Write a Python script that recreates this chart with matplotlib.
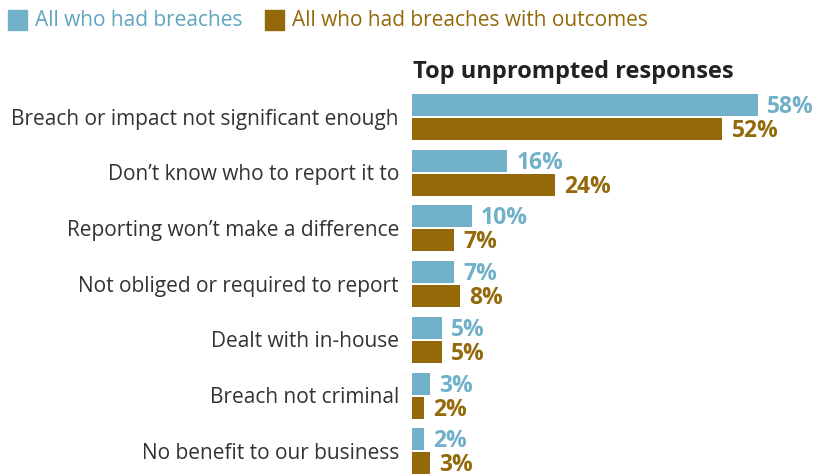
import matplotlib
matplotlib.use("Agg")
import matplotlib.pyplot as plt
import numpy as np

plt.rcParams['font.family'] = ['Open Sans', 'DejaVu Sans']

categories = [
    "Breach or impact not significant enough",
    "Don\u2019t know who to report it to",
    "Reporting won\u2019t make a difference",
    "Not obliged or required to report",
    "Dealt with in-house",
    "Breach not criminal",
    "No benefit to our business",
]
all_breaches = [58, 16, 10, 7, 5, 3, 2]
with_outcomes = [52, 24, 7, 8, 5, 2, 3]
series_names = ["All who had breaches", "All who had breaches with outcomes"]

blue = "#70B0C9"
blue_text = "#5FA5C0"
brown = "#936909"
label_dark = "#333333"

W, H = 818, 476
fig = plt.figure(figsize=(W / 100, H / 100), dpi=100)

# axes spanning the bar area in pixel terms
left_px, right_px = 412, 818
top_px, bottom_px = 94, 474
ax = fig.add_axes([left_px / W, 1 - bottom_px / H, (right_px - left_px) / W, (bottom_px - top_px) / H])

px_per_unit = 5.96
ax.set_xlim(0, (right_px - left_px) / px_per_unit)
group_px = 55.7
span = (bottom_px - top_px) / group_px
top_off = 23 / group_px
ax.set_ylim(span - top_off, -top_off)

y = np.arange(len(categories))
off = 12 / group_px
h = 22 / group_px
ax.barh(y - off, all_breaches, height=h, color=blue)
ax.barh(y + off, with_outcomes, height=h, color=brown)

nudge = 2 / group_px
for yi, v in zip(y, all_breaches):
    ax.text(v + 1.6, yi - off + nudge, f"{v}%", color=blue, fontsize=16.5, fontweight='bold',
            va='center', ha='left')
for yi, v in zip(y, with_outcomes):
    ax.text(v + 1.6, yi + off + nudge, f"{v}%", color=brown, fontsize=16.5, fontweight='bold',
            va='center', ha='left')

for yi, c in zip(y, categories):
    ax.text(-2.2, yi + nudge, c, color=label_dark, fontsize=15, va='center', ha='right')

ax.axis('off')

fig.text(413 / W, 1 - 72 / H, "Top unprompted responses", fontsize=17, fontweight='bold',
         color="#222222", va='center', ha='left')

# legend
fig.patches.append(plt.Rectangle((8 / W, 1 - 30 / H), 19 / W, 20 / H, color=blue,
                                 transform=fig.transFigure))
fig.text(35 / W, 1 - 20 / H, series_names[0], color=blue_text, fontsize=15, va='center', ha='left')
fig.patches.append(plt.Rectangle((265 / W, 1 - 30 / H), 19 / W, 20 / H, color=brown,
                                 transform=fig.transFigure))
fig.text(292 / W, 1 - 20 / H, series_names[1], color=brown, fontsize=15, va='center', ha='left')

fig.savefig("out.png", dpi=100)
